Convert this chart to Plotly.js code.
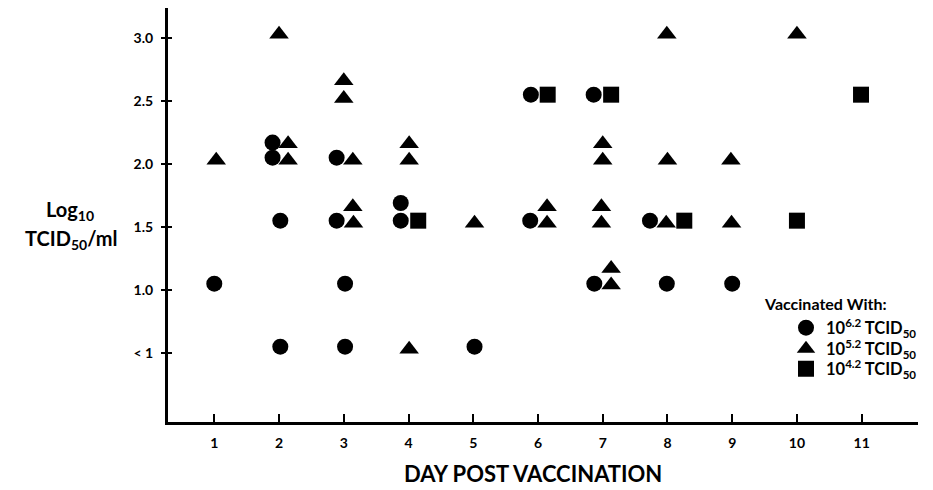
<!DOCTYPE html>
<html>
<head>
<meta charset="utf-8">
<script src="https://cdn.plot.ly/plotly-3.0.1.min.js"></script>
<style>html,body{margin:0;padding:0;background:#fff;}#chart{width:933px;height:490px;}</style>
</head>
<body>
<div id="chart"></div>
<script>
// Day post vaccination (x) and Log10 TCID50/ml (y) for each dose group
const circleDays = [1.0, 1.9, 1.9, 2.02, 2.02, 2.89, 2.89, 3.02, 3.02, 3.88, 3.88, 5.02, 5.89, 5.88, 6.86, 6.87, 7.73, 7.99, 9.0];
const circleVals = [1.05, 2.17, 2.05, 1.55, 0.55, 2.05, 1.55, 1.05, 0.55, 1.69, 1.55, 0.55, 2.55, 1.55, 2.55, 1.05, 1.55, 1.05, 1.05];

const triangleDays = [1.03, 2.0, 2.14, 2.14, 3.0, 3.0, 3.14, 3.14, 3.15, 4.01, 4.01, 4.01, 5.02, 6.14, 6.14, 7.0, 7.0, 6.98, 6.98, 7.13, 7.13, 7.99, 8.0, 7.98, 8.98, 8.99, 10.0];
const triangleVals = [2.03, 3.03, 2.16, 2.03, 2.66, 2.52, 2.03, 1.66, 1.53, 2.16, 2.03, 0.53, 1.53, 1.66, 1.53, 2.16, 2.03, 1.66, 1.53, 1.17, 1.04, 3.03, 2.03, 1.53, 2.03, 1.53, 3.03];

const squareDays = [4.15, 6.15, 7.13, 8.26, 10.0, 10.99];
const squareVals = [1.55, 2.55, 2.55, 1.55, 1.55, 2.55];

const seriesNames = ['10<sup>6.2</sup> TCID<sub>50</sub>', '10<sup>5.2</sup> TCID<sub>50</sub>', '10<sup>4.2</sup> TCID<sub>50</sub>'];

const xTickVals = [1, 2, 3, 4, 5, 6, 7, 8, 9, 10, 11];
const xTickText = ['1', '2', '3', '4', '5', '6', '7', '8', '9', '10', '11'];
const yTickVals = [0.5, 1.0, 1.5, 2.0, 2.5, 3.0];
const yTickText = ['< 1', '1.0', '1.5', '2.0', '2.5', '3.0'];

const FONT = 'Lato, "Open Sans", sans-serif';

const traces = [
  {x: circleDays, y: circleVals, name: seriesNames[0], type: 'scatter', mode: 'markers', legend: 'legend',
   marker: {symbol: 'circle', size: 16, color: '#000'}},
  {x: triangleDays, y: triangleVals, name: seriesNames[1], type: 'scatter', mode: 'markers', legend: 'legend2',
   marker: {symbol: 'triangle-up', size: 17, color: '#000'}},
  {x: squareDays, y: squareVals, name: seriesNames[2], type: 'scatter', mode: 'markers', legend: 'legend3',
   marker: {symbol: 'square', size: 16, color: '#000'}}
];

const legFont = {family: FONT, size: 16.5, color: '#000', weight: 700};
function leg(y) {
  return {x: 0.824, y: y, xanchor: 'left', yanchor: 'middle', font: legFont, bgcolor: 'rgba(0,0,0,0)'};
}

const layout = {
  width: 933, height: 490,
  margin: {l: 168, r: 15, t: 8, b: 68},
  paper_bgcolor: '#fff', plot_bgcolor: '#fff',
  font: {family: FONT, color: '#000', weight: 700},
  showlegend: true,
  legend: leg(0.2271),
  legend2: leg(0.1763),
  legend3: leg(0.128),
  xaxis: {
    range: [0.285, 11.87], showgrid: false, zeroline: false,
    showline: true, linewidth: 3, linecolor: '#000',
    ticks: 'inside', ticklen: 8, tickwidth: 2, tickcolor: '#000',
    tickmode: 'array', tickvals: xTickVals, ticktext: xTickText,
    ticklabelstandoff: 6,
    tickfont: {family: FONT, size: 14, color: '#000', weight: 700}
  },
  yaxis: {
    range: [-0.048, 3.238], showgrid: false, zeroline: false,
    showline: true, linewidth: 3, linecolor: '#000',
    ticks: 'outside', ticklen: 4, tickwidth: 2, tickcolor: '#000',
    tickmode: 'array', tickvals: yTickVals, ticktext: yTickText,
    ticklabelstandoff: 5,
    minor: {tickmode: 'array', tickvals: yTickVals, ticks: 'inside', ticklen: 4, tickwidth: 2, tickcolor: '#000', showgrid: false},
    tickfont: {family: FONT, size: 14, color: '#000', weight: 700}
  },
  annotations: [
    {xref: 'paper', yref: 'paper', x: (533 - 168) / 750, y: (422 - 489) / 414, xanchor: 'center', yanchor: 'bottom',
     text: 'DAY POST VACCINATION', showarrow: false,
     font: {family: FONT, size: 22, color: '#000', weight: 700}},
    {xref: 'paper', yref: 'paper', x: -0.1313, y: 0.512, xanchor: 'center', yanchor: 'middle',
     text: 'Log<sub>10</sub>', showarrow: false,
     font: {family: FONT, size: 20, color: '#000', weight: 700}},
    {xref: 'paper', yref: 'paper', x: -0.1293, y: 0.441, xanchor: 'center', yanchor: 'middle',
     text: 'TCID<sub>50</sub>/ml', showarrow: false,
     font: {family: FONT, size: 20, color: '#000', weight: 700}},
    {xref: 'paper', yref: 'paper', x: 0.876, y: (422 - 315) / 414, xanchor: 'center', yanchor: 'bottom',
     text: 'Vaccinated With:', showarrow: false,
     font: {family: FONT, size: 16, color: '#000', weight: 700}}
  ]
};

Plotly.newPlot('chart', traces, layout, {displayModeBar: false, staticPlot: true});
</script>
</body>
</html>
